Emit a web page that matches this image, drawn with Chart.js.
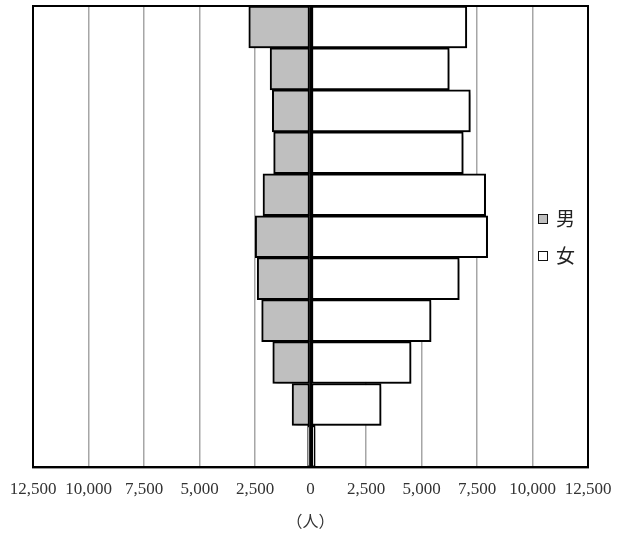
<!DOCTYPE html>
<html>
<head>
<meta charset="utf-8">
<script src="https://cdn.jsdelivr.net/npm/chart.js@4"></script>
<style>
  html, body { margin:0; padding:0; background:#fff; }
  #wrap { position:relative; width:618px; height:537px; }
  .lg { position:absolute; left:538px; font-family:"Noto Sans CJK JP", sans-serif; font-size:19px; line-height:20px; color:#222; }
  .lg i { display:inline-block; width:8px; height:8px; border:1.5px solid #111; vertical-align:middle; margin-right:8px; position:relative; top:-2px; }
</style>
</head>
<body>
<div id="wrap">
  <canvas id="chart" width="618" height="537"></canvas>
  <div class="lg" style="top:208px;"><i style="background:#bfbfbf"></i>男</div>
  <div class="lg" style="top:245px;"><i style="background:#fff"></i>女</div>
</div>
<script>
// rows top to bottom
const rows = ['1','2','3','4','5','6','7','8','9','10','11'];
const male   = [2780, 1820, 1720, 1660, 2140, 2490, 2400, 2200, 1700, 830, 130];
const female = [7040, 6250, 7200, 6880, 7890, 7980, 6700, 5430, 4530, 3180, 210];
const ticks  = [-12500, -10000, -7500, -5000, -2500, 0, 2500, 5000, 7500, 10000, 12500];

const num = new Intl.NumberFormat('en-US');

// soft drop shadow under the bars, then a frame round the plot
const frame = {
  id: 'frame',
  beforeDatasetsDraw(chart){
    const c = chart.ctx;
    c.save();
    c.shadowColor = 'rgba(0,0,0,0.35)';
    c.shadowBlur = 4;
    c.shadowOffsetX = 3;
    c.shadowOffsetY = 3;
  },
  afterDatasetsDraw(chart){
    chart.ctx.restore();
    const c = chart.ctx, a = chart.chartArea;
    const x0 = chart.scales.x.getPixelForValue(0);
    c.save();
    c.strokeStyle = '#000';
    c.lineWidth = 2;
    c.beginPath(); c.moveTo(x0, a.top); c.lineTo(x0, a.bottom); c.stroke();
    c.strokeRect(a.left, a.top, a.right - a.left, a.bottom - a.top);
    c.restore();
  }
};

new Chart(document.getElementById('chart'), {
  type: 'bar',
  data: {
    labels: rows,
    datasets: [
      { label:'男', data: male.map(v => -v), backgroundColor:'#bfbfbf', borderColor:'#000', borderWidth:2, borderSkipped:false },
      { label:'女', data: female, backgroundColor:'#fff', borderColor:'#000', borderWidth:2, borderSkipped:false }
    ]
  },
  options: {
    indexAxis: 'y',
    responsive: false,
    animation: false,
    layout: { padding: { left:33, right:30, top:6, bottom:0 } },
    datasets: { bar: { barPercentage:1, categoryPercentage:1 } },
    scales: {
      x: {
        stacked: true, min:-12500, max:12500,
        afterBuildTicks: (s) => { s.ticks = ticks.map(v => ({ value:v })); },
        // end labels may hang into the page margin
        afterFit: (s) => { s.paddingLeft = 0; s.paddingRight = 0; },
        grid: { color: (c) => c.tick && c.tick.value === 0 ? '#000' : '#a6a6a6', lineWidth: (c) => c.tick && c.tick.value === 0 ? 2 : 1.5, drawTicks:false },
        border: { color:'#000', width:2 },
        ticks: { color:'#333', padding:12, maxRotation:0, autoSkip:false,
          font: { family:'"Liberation Serif"', size:17 },
          callback: (v) => num.format(Math.abs(v)) },
        title: { display:true, text:'（人）', color:'#333', padding:{ top:0, bottom:6 },
          font: { family:'"Noto Sans CJK JP"', size:16 } }
      },
      y: { stacked: true, display:false }
    },
    plugins: { legend:{ display:false }, tooltip:{ enabled:false } }
  },
  plugins: [frame]
});
</script>
</body>
</html>
